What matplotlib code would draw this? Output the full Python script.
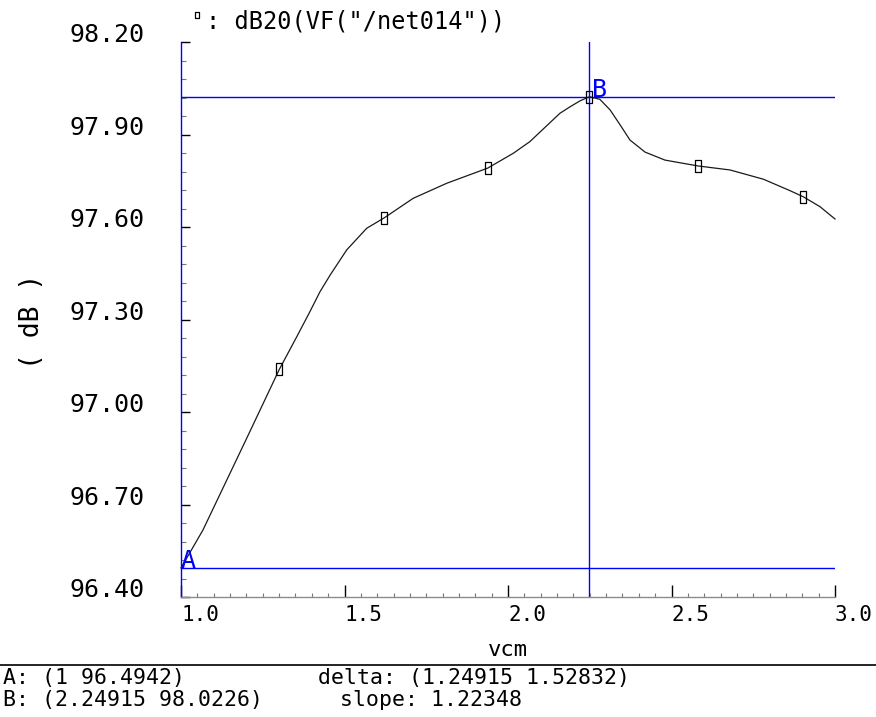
import matplotlib
matplotlib.use("Agg")
import matplotlib.pyplot as plt
from matplotlib.lines import Line2D
from matplotlib.ticker import FixedLocator, AutoMinorLocator, FuncFormatter

# waveform: dB20(VF("/net014")) versus vcm
vcm = [1.000, 1.067, 1.201, 1.301, 1.354, 1.394, 1.425, 1.456, 1.507, 1.568,
       1.622, 1.710, 1.813, 1.938, 2.016, 2.067, 2.159, 2.190, 2.220, 2.24915,
       2.281, 2.312, 2.343, 2.373, 2.419, 2.480, 2.581, 2.679, 2.781, 2.862,
       2.903, 2.954, 3.000]
gain_db = [96.4942, 96.617, 96.915, 97.139, 97.244, 97.325, 97.390, 97.444, 97.526, 97.596,
           97.630, 97.693, 97.742, 97.791, 97.839, 97.877, 97.969, 97.990, 98.009, 98.0226,
           98.014, 97.980, 97.931, 97.882, 97.843, 97.817, 97.798, 97.785, 97.755, 97.718,
           97.698, 97.666, 97.626]
marker_idx = [3, 10, 13, 19, 26, 30]

# cursor readouts
cursor_a = (1.0, 96.4942)
cursor_b = (2.24915, 98.0226)
delta = (1.24915, 1.52832)
slope = 1.22348

x_ticks = [1.0, 1.5, 2.0, 2.5, 3.0]
y_ticks = [96.40, 96.70, 97.00, 97.30, 97.60, 97.90, 98.20]

trace_name = 'dB20(VF("/net014"))'
x_name = "vcm"
y_name = "( dB )"

W, H = 876, 717
BLUE = "#0000ff"
plt.rcParams["font.family"] = ["DejaVu Sans Mono", "DejaVu Sans"]

fig = plt.figure(figsize=(W / 100, H / 100), dpi=100)
fig.patch.set_facecolor("white")

ax = fig.add_axes([181 / W, 1 - 597 / H, 654 / W, 555 / H])
ax.set_xlim(1.0, 3.0)
ax.set_ylim(96.40, 98.20)

for side in ("top", "right"):
    ax.spines[side].set_visible(False)
ax.spines["left"].set_color(BLUE)
ax.spines["left"].set_linewidth(1.0)
ax.spines["bottom"].set_color("#8c8c8c")
ax.spines["bottom"].set_linewidth(1.0)

ax.xaxis.set_major_locator(FixedLocator(x_ticks))
ax.xaxis.set_minor_locator(AutoMinorLocator(10))
ax.yaxis.set_major_locator(FixedLocator(y_ticks))
ax.yaxis.set_minor_locator(AutoMinorLocator(5))
ax.xaxis.set_major_formatter(FuncFormatter(lambda v, p: f"{v:.1f}"))
ax.yaxis.set_major_formatter(FuncFormatter(lambda v, p: f"{v:.2f}"))

ax.tick_params(axis="x", which="major", direction="in", length=8.6, width=1.0,
               color="black", pad=6, labelsize=15)
ax.tick_params(axis="x", which="minor", direction="in", length=3.0, width=0.8,
               color="#777777")
ax.tick_params(axis="y", which="major", direction="in", length=6.5, width=1.0,
               color="black", pad=26, labelsize=18)
ax.tick_params(axis="y", which="minor", direction="in", length=3.6, width=0.8,
               color="#777777")
for lbl in ax.get_xticklabels():
    lbl.set_horizontalalignment("left")
for lbl in ax.get_yticklabels():
    lbl.set_verticalalignment("baseline")

# cursors
ax.axvline(cursor_b[0], color=BLUE, lw=1.0, zorder=1)
ax.axhline(cursor_a[1], color=BLUE, lw=1.0, zorder=1)
ax.axhline(cursor_b[1], color=BLUE, lw=1.0, zorder=1)
ax.text(cursor_a[0], cursor_a[1], "A", color=BLUE, fontsize=18,
        ha="left", va="baseline", zorder=3)
ax.text(cursor_b[0] + 0.008, cursor_b[1], "B", color=BLUE, fontsize=18,
        ha="left", va="baseline", zorder=3)

box = [(-0.5, -1), (0.5, -1), (0.5, 1), (-0.5, 1), (-0.5, -1)]
ax.plot(vcm, gain_db, color="#1a1a1a", lw=0.9, marker=box, markevery=marker_idx,
        ms=8, mfc="none", mec="black", mew=0.9, zorder=2, clip_on=False)

# trace legend at the top
fig.add_artist(Line2D([197 / W], [1 - 15 / H], marker=box, ms=5, mfc="none",
                      mec="black", mew=0.9, transform=fig.transFigure))
fig.text(206 / W, 1 - 22 / H, ": " + trace_name, fontsize=17, ha="left", va="center")

fig.text(32 / W, 1 - 321 / H, y_name, fontsize=19, rotation=90,
         ha="center", va="center")
fig.text(508 / W, 1 - 650 / H, x_name, fontsize=16, ha="center", va="center")

# cursor readout panel
fig.add_artist(Line2D([0, 1], [1 - 665 / H] * 2, color="black", lw=1.2,
                      transform=fig.transFigure))
fig.text(3 / W, 1 - 678 / H, f"A: ({cursor_a[0]:g} {cursor_a[1]:g})",
         fontsize=15.5, ha="left", va="center")
fig.text(3 / W, 1 - 700 / H, f"B: ({cursor_b[0]:g} {cursor_b[1]:g})",
         fontsize=15.5, ha="left", va="center")
fig.text(318 / W, 1 - 678 / H, f"delta: ({delta[0]:g} {delta[1]:g})",
         fontsize=15.5, ha="left", va="center")
fig.text(340 / W, 1 - 700 / H, f"slope: {slope:g}",
         fontsize=15.5, ha="left", va="center")

fig.savefig("out.png", dpi=100, facecolor="white")
